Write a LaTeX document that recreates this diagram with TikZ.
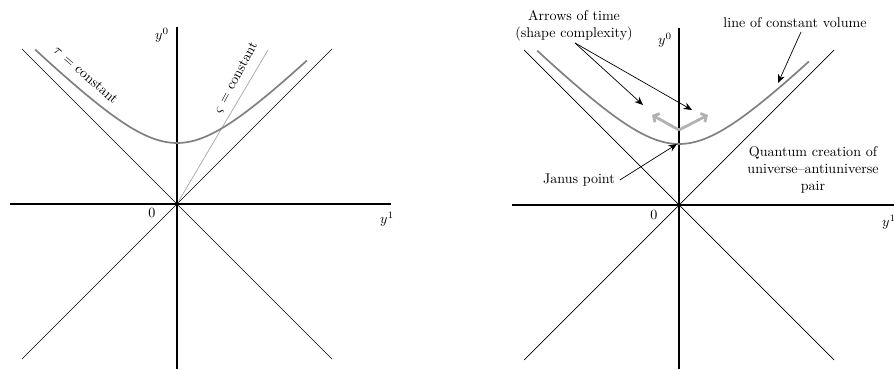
\documentclass[tikz,border=0pt]{standalone}
\usepackage{amsmath,amssymb}
\usetikzlibrary{arrows.meta}
\tikzstyle{axis}=[line width=1.2pt]
\tikzstyle{cone}=[line width=0.5pt]
\tikzstyle{hyp}=[line width=1.2pt, color=black!50]
\tikzstyle{slope}=[line width=0.5pt, color=black!35]
\tikzstyle{timearrow}=[line width=2pt, color=black!30, -{Straight Barb[length=3pt, width=7pt]}]
\tikzstyle{note}=[line width=0.5pt, -{Stealth[length=6pt, width=5pt]}]

\begin{document}
\begin{tikzpicture}[x=0.025cm, y=0.025cm]
\useasboundingbox (0,0) rectangle (894,369);
\coordinate (o1) at (177,165);
\coordinate (xl1) at (10,165);
\coordinate (xr1) at (391,165);
\coordinate (yt1) at (177,342);
\coordinate (yb1) at (177,0);
\coordinate (ul1) at (22,320);
\coordinate (ur1) at (332,320);
\coordinate (ll1) at (22,10);
\coordinate (lr1) at (332,10);
\coordinate (s1) at (268,319);
\draw[cone] (ul1)--(lr1);
\draw[cone] (ur1)--(ll1);
\draw[slope] (o1)--(s1);
\draw[axis] (xl1)--(xr1);
\draw[axis] (yt1)--(yb1);
\draw[hyp] plot[domain=-1.58:1.50, samples=60, smooth, variable=\t] ({177+61*sinh(\t)},{165+61*cosh(\t)});
\node at (162,334)(y01){$y^0$};
\node at (152,156)(z1){$0$};
\node at (387,150)(y11){$y^1$};
\node at (86,294)[rotate=-41](tau){$\tau$ = constant};
\node at (236,291)[rotate=62](sig){$\varsigma$ = constant};

\coordinate (o2) at (679,164);
\coordinate (xl2) at (512,164);
\coordinate (xr2) at (900,164);
\coordinate (yt2) at (679,341);
\coordinate (yb2) at (679,0);
\coordinate (ul2) at (524,319);
\coordinate (ur2) at (834,319);
\coordinate (ll2) at (524,9);
\coordinate (lr2) at (834,9);
\draw[cone] (ul2)--(lr2);
\draw[cone] (ur2)--(ll2);
\draw[axis] (xl2)--(xr2);
\draw[axis] (yt2)--(yb2);
\draw[hyp] plot[domain=-1.58:1.50, samples=60, smooth, variable=\t] ({679+61*sinh(\t)},{164+61*cosh(\t)});
\node at (665,329)(y02){$y^0$};
\node at (654,154)(z2){$0$};
\node at (889,147)(y12){$y^1$};

\coordinate (j) at (679,239);
\coordinate (tl) at (652,254);
\coordinate (tr) at (708,254);
\draw[timearrow] (j)--(tl);
\draw[timearrow] (j)--(tr);

\node at (574,343)[align=center](arrows){Arrows of time\\(shape complexity)};
\coordinate (a0) at (575,326);
\coordinate (a1) at (643,264);
\coordinate (a2) at (692,259);
\draw[note] (a0)--(a1);
\draw[note] (a0)--(a2);

\node at (795,346)(vol){line of constant volume};
\coordinate (v0) at (801,337);
\coordinate (v1) at (778,286);
\draw[note] (v0)--(v1);

\node at (579,189)(janus){Janus point};
\coordinate (jp) at (677,225);
\draw[note] (janus.east)--(jp);

\node at (813,199)[align=center](qc){Quantum creation of\\universe--antiuniverse\\pair};
\end{tikzpicture}
\end{document}
